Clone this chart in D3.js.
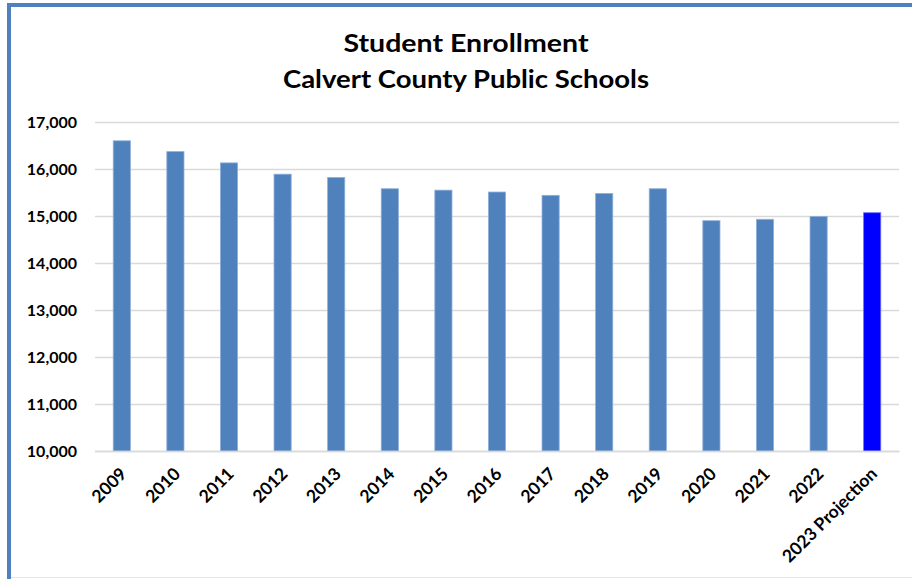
<!DOCTYPE html>
<html><head><meta charset="utf-8">
<script src="https://cdn.jsdelivr.net/npm/d3@7"></script>
<style>body{margin:0;background:#fff;} svg{display:block;}</style>
</head><body>
<svg id="c" width="912" height="579"></svg>
<script>
const categories = ["2009","2010","2011","2012","2013","2014","2015","2016","2017","2018","2019","2020","2021","2022","2023 Projection"];
const enrollment = [16600,16370,16130,15890,15820,15580,15550,15510,15440,15480,15580,14900,14930,14990,15070];
const yTicks = [10000,11000,12000,13000,14000,15000,16000,17000];
const titleLines = ["Student Enrollment","Calvert County Public Schools"];

const svg = d3.select("#c");
const W = 912, H = 579;
const m = {left:95, right:13, top:122, bottom:128};
const FONT = "Lato, 'Open Sans', sans-serif";

// frame
svg.append("rect").attr("x",0).attr("y",0).attr("width",W).attr("height",H).attr("fill","#fff");
svg.append("line").attr("x1",7).attr("x2",W).attr("y1",5).attr("y2",5).attr("stroke","#4f81bd").attr("stroke-width",4);
svg.append("line").attr("x1",9).attr("x2",9).attr("y1",3).attr("y2",H).attr("stroke","#4f81bd").attr("stroke-width",4);
svg.append("line").attr("x1",11).attr("x2",W).attr("y1",577.5).attr("y2",577.5).attr("stroke","#e6e6e6").attr("stroke-width",1);

const x = d3.scaleBand().domain(categories).range([m.left, W - m.right]).paddingInner(0.68).paddingOuter(0.34);
const y = d3.scaleLinear().domain([10000,17000]).range([H - m.bottom, m.top]);

// title
const titleW = [245, 366];
svg.selectAll("text.title").data(titleLines).join("text")
  .attr("class","title")
  .attr("x",466).attr("y",(d,i)=>52+i*36)
  .attr("text-anchor","middle")
  .attr("font-family",FONT).attr("font-weight","bold")
  .attr("font-size",24).attr("fill","#000")
  .attr("textLength",(d,i)=>titleW[i]).attr("lengthAdjust","spacingAndGlyphs")
  .text(d=>d);

// grid
const yAxis = d3.axisLeft(y).tickValues(yTicks).tickFormat(d3.format(",")).tickSize(-(W - m.right - m.left)).tickPadding(18);
const gy = svg.append("g").attr("transform",`translate(${m.left},0)`).call(yAxis);
gy.select(".domain").remove();
gy.selectAll(".tick line").attr("stroke","#d9d9d9").attr("stroke-width",1.3);
gy.selectAll(".tick text").attr("font-family",FONT).attr("font-weight","bold").attr("font-size",16).attr("fill","#000");

// bars
svg.append("g").selectAll("rect").data(categories).join("rect")
  .attr("x",d=>x(d)).attr("width",x.bandwidth())
  .attr("y",(d,i)=>y(enrollment[i])).attr("height",(d,i)=>y(10000)-y(enrollment[i]))
  .attr("fill",(d,i)=> i===categories.length-1 ? "#0000ff" : "#4f81bd")
  .attr("stroke",(d,i)=> i===categories.length-1 ? "#6f6fff" : "#8fb0d9").attr("stroke-width",0.8);

// x axis
const xAxis = d3.axisBottom(x).tickSize(0).tickPadding(0);
const gx = svg.append("g").attr("transform",`translate(0,${y(10000)})`).call(xAxis);
gx.select(".domain").attr("stroke","#d9d9d9").attr("stroke-width",1.3);
gx.selectAll(".tick text")
  .attr("font-family",FONT).attr("font-weight","bold").attr("font-size",17.5).attr("fill","#000")
  .attr("text-anchor","end").attr("dy",null)
  .attr("transform","translate(6,24) rotate(-45)");
</script>
</body></html>
